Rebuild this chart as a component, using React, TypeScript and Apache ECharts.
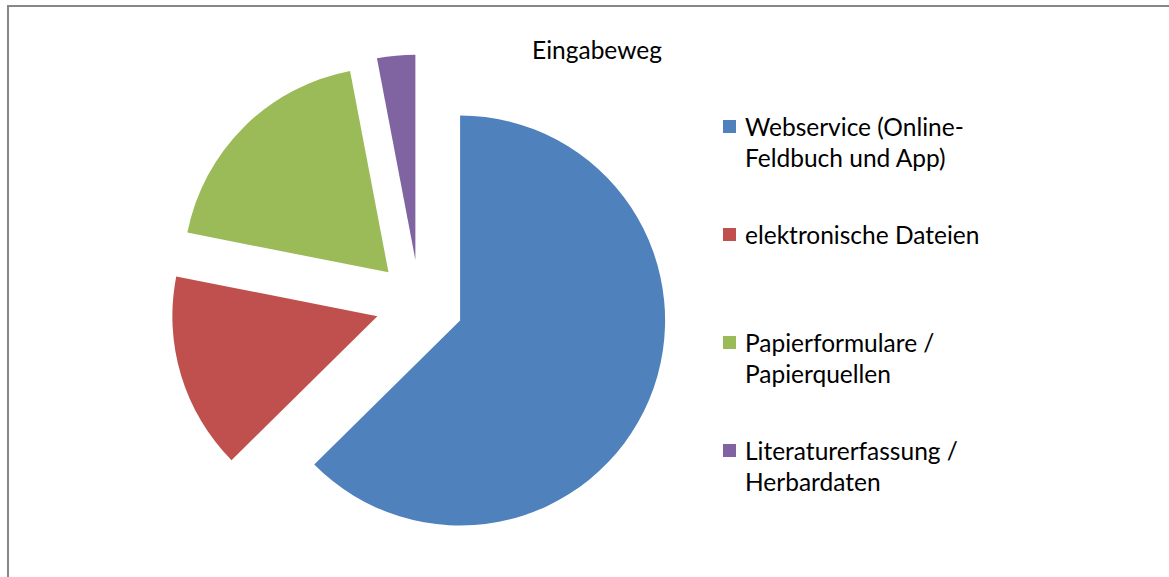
import React, { useEffect, useRef } from "react";
import * as echarts from "echarts";

const title = "Eingabeweg";
const categories = [
  "Webservice (Online-\nFeldbuch und App)",
  "elektronische Dateien",
  "Papierformulare /\nPapierquellen",
  "Literaturerfassung /\nHerbardaten",
];
const values = [62.6, 15.5, 18.9, 3.0];
const colors = ["#4F81BD", "#C0504D", "#9BBB59", "#8064A2"];

const FONT = "Lato";
const FS = 24.5;

export default function App() {
  const ref = useRef<HTMLDivElement>(null);
  useEffect(() => {
    if (!ref.current) return;
    const chart = echarts.init(ref.current, undefined, { renderer: "svg" });
    const legendTop = 126.5;
    const legendStep = 108;
    const legendGraphics: any[] = [];
    categories.forEach((c, i) => {
      const cy = legendTop + i * legendStep;
      legendGraphics.push({
        type: "rect",
        shape: { x: 723, y: cy - 6.5, width: 13, height: 13 },
        style: { fill: colors[i] },
        silent: true,
      });
      legendGraphics.push({
        type: "text",
        x: 745,
        y: cy - 15.5,
        style: {
          text: c,
          font: `${FS}px ${FONT}`,
          fill: "#000000",
          lineHeight: 31,
          textAlign: "left",
          textVerticalAlign: "top",
        },
        silent: true,
      });
    });
    chart.setOption({
      animation: false,
      backgroundColor: "#ffffff",
      title: {
        text: title,
        left: 592,
        top: 32,
        textAlign: "center",
        textStyle: { fontFamily: FONT, fontSize: FS, fontWeight: "normal", color: "#000000" },
      },
      graphic: [
        {
          type: "rect",
          shape: { x: 8, y: 6, width: 1300, height: 800 },
          style: { fill: "none", stroke: "#878787", lineWidth: 2 },
          silent: true,
          z: 100,
        },
        ...legendGraphics,
      ],
      series: [
        {
          type: "pie",
          center: [419.5, 303.5],
          radius: 205,
          startAngle: 90,
          clockwise: true,
          selectedMode: "multiple",
          selectedOffset: 44,
          label: { show: false },
          labelLine: { show: false },
          emphasis: { disabled: true },
          select: { itemStyle: {} },
          itemStyle: { borderWidth: 0 },
          data: categories.map((c, i) => ({
            name: c,
            value: values[i],
            selected: true,
            itemStyle: { color: colors[i] },
          })),
        },
      ],
    });
    return () => chart.dispose();
  }, []);
  return (
    <div
      ref={ref}
      style={{ position: "absolute", left: 0, top: 0, width: 1169, height: 577 }}
    />
  );
}
